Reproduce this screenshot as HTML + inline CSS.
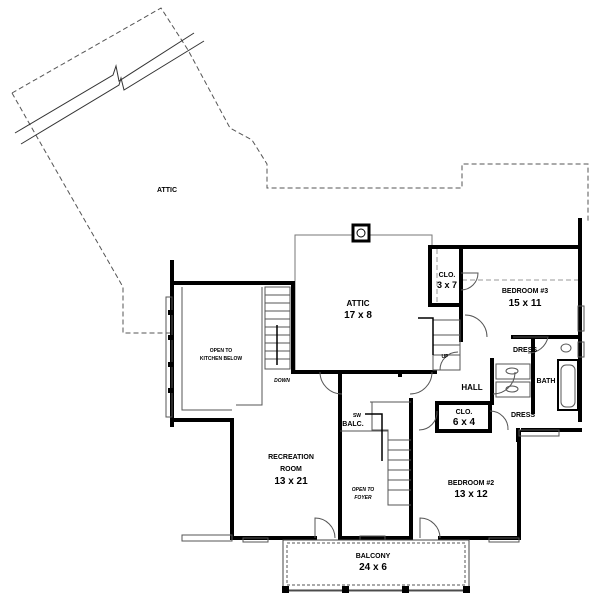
<!DOCTYPE html>
<html><head><style>body{margin:0;background:#fff}svg{display:block}text{font-family:"Liberation Sans",sans-serif;font-weight:bold;text-anchor:middle;fill:#000}</style></head><body>
<svg width="600" height="600" viewBox="0 0 600 600" xmlns="http://www.w3.org/2000/svg">
<g fill="none" stroke="#555" stroke-width="1" stroke-dasharray="5,3">
<polyline points="12,93 161,8 188,50 230,128 252,140 267,164 267,188 462,188 462,164 588,164 588,222"/>
<polyline points="12,93 37,137 123,287 123,333 171,333"/>
<line x1="462" y1="280" x2="578" y2="280" stroke="#999"/>
<line x1="437" y1="249" x2="437" y2="303" stroke="#999"/>
</g>
<g fill="none" stroke="#333" stroke-width="1">
<polyline points="15,133 113,75 116,66 119,81 194,33"/>
<polyline points="21,144 119,85 121,78 124,90 204,41"/>
</g>
<text x="167" y="192" font-size="7">ATTIC</text>
<g stroke="#777" fill="none"><polyline points="295,372 295,235 432,235 432,247"/></g>
<rect x="353" y="225" width="16" height="16" fill="#fff" stroke="#000" stroke-width="3"/>
<circle cx="361" cy="233" r="4" fill="none" stroke="#000"/>
<g stroke="#000" stroke-width="4" fill="none" stroke-linecap="square">
<polyline points="293,283 293,372 435,372"/>
<polyline points="172,262 172,425"/>
<polyline points="172,283 293,283"/>
<polyline points="172,420 232,420 232,538 315,538"/>
<line x1="340" y1="372" x2="340" y2="538"/>
<line x1="411" y1="400" x2="411" y2="538"/>
<polyline points="340,538 411,538"/>
<polyline points="440,538 519,538 519,432"/>
<polyline points="430,247 580,247"/>
<line x1="580" y1="220" x2="580" y2="420"/>
<polyline points="430,247 430,305 461,305 461,247"/>
<line x1="461" y1="305" x2="461" y2="340"/>
<line x1="513" y1="337" x2="580" y2="337"/>
<line x1="533" y1="337" x2="533" y2="412"/>
<line x1="492" y1="360" x2="492" y2="403"/>
<polyline points="437,403 492,403"/>
<polyline points="437,403 437,431 490,431 490,403"/>
<line x1="523" y1="430" x2="580" y2="430"/>
<line x1="518" y1="430" x2="518" y2="440"/>
<line x1="400" y1="372" x2="400" y2="375"/>
</g>
<g stroke="#555" fill="none">
<rect x="265" y="287" width="25" height="82"/>
<line x1="265" y1="295" x2="290" y2="295"/><line x1="265" y1="303" x2="290" y2="303"/><line x1="265" y1="311" x2="290" y2="311"/><line x1="265" y1="319" x2="290" y2="319"/><line x1="265" y1="327" x2="290" y2="327"/><line x1="265" y1="335" x2="290" y2="335"/><line x1="265" y1="343" x2="290" y2="343"/><line x1="265" y1="351" x2="290" y2="351"/><line x1="265" y1="359" x2="290" y2="359"/>
<polyline points="182,287 182,410 232,410"/>
<polyline points="262,287 262,405 236,405"/>
<rect x="166" y="297" width="6" height="120"/>
<polyline points="370,402 411,402"/>
<polyline points="372,402 372,430 388,430 388,505 411,505"/>
<line x1="388" y1="440" x2="411" y2="440"/><line x1="388" y1="450" x2="411" y2="450"/><line x1="388" y1="460" x2="411" y2="460"/><line x1="388" y1="470" x2="411" y2="470"/><line x1="388" y1="480" x2="411" y2="480"/><line x1="388" y1="490" x2="411" y2="490"/>
<line x1="340" y1="431" x2="388" y2="431"/>
<rect x="433" y="320" width="27" height="50"/>
<line x1="433" y1="335" x2="460" y2="335"/><line x1="433" y1="345" x2="460" y2="345"/><line x1="433" y1="355" x2="460" y2="355"/>
<rect x="558" y="360" width="20" height="50" stroke-width="2" stroke="#000"/>
<rect x="561" y="365" width="14" height="42" rx="5"/>
<ellipse cx="566" cy="348" rx="5" ry="4"/>
<rect x="496" y="364" width="34" height="15"/><ellipse cx="512" cy="371" rx="6" ry="3"/>
<rect x="496" y="382" width="34" height="15"/><ellipse cx="512" cy="389" rx="6" ry="3"/>
<path d="M315,538 L315,518 A20,20 0 0 1 335,538"/>
<path d="M420,538 L420,518 A20,20 0 0 1 440,538"/>
<path d="M320,372 A22,22 0 0 0 342,394"/>
<path d="M432,372 A22,22 0 0 1 410,394"/>
<path d="M461,273 L478,273 A17,17 0 0 1 461,290"/>
<path d="M465,315 A22,22 0 0 1 487,337"/>
<path d="M493,394 A22,22 0 0 0 515,372"/>
<path d="M513,337 L548,337 A20,20 0 0 1 528,353"/>
<path d="M437,411 A18,18 0 0 1 419,430"/>
<path d="M490,411 A18,18 0 0 1 508,430"/>
<path d="M440,370 A18,18 0 0 1 458,352"/>
<rect x="578" y="306" width="6" height="25"/><rect x="578" y="342" width="6" height="15"/>
<rect x="182" y="535" width="50" height="6"/><rect x="243" y="538" width="25" height="4"/>
<rect x="519" y="430" width="40" height="6"/><rect x="489" y="538" width="30" height="4"/>
<rect x="360" y="536" width="25" height="4"/>
<rect x="283" y="540" width="186" height="50" stroke="#444"/>
<rect x="287" y="543" width="178" height="42" stroke-dasharray="3,2"/>
<line x1="283" y1="591" x2="469" y2="591"/>
</g>
<g fill="#000"><rect x="282" y="586" width="7" height="7"/><rect x="342" y="586" width="7" height="7"/><rect x="402" y="586" width="7" height="7"/><rect x="463" y="586" width="7" height="7"/>
<rect x="168" y="310" width="5" height="5"/><rect x="168" y="335" width="5" height="5"/><rect x="168" y="362" width="5" height="5"/><rect x="168" y="388" width="5" height="5"/></g>
<g stroke="#000" stroke-width="1.5" fill="none">
<line x1="277" y1="365" x2="277" y2="325"/>
<polyline points="418,318 433,318 433,355"/>
<polyline points="365,414 382,414 382,432 382,461"/>
</g>
<text x="358" y="306" font-size="8">ATTIC</text><text x="358" y="318" font-size="10">17 x 8</text>
<text x="221" y="352" font-size="5">OPEN TO</text><text x="221" y="360" font-size="5">KITCHEN BELOW</text>
<text x="282" y="382" font-size="5" font-style="italic">DOWN</text>
<text x="445" y="358" font-size="5">UP</text>
<text x="447" y="277" font-size="7">CLO.</text><text x="447" y="288" font-size="9">3 x 7</text>
<text x="525" y="293" font-size="7">BEDROOM #3</text><text x="525" y="306" font-size="10">15 x 11</text>
<text x="525" y="352" font-size="7">DRESS</text><text x="546" y="383" font-size="7">BATH</text>
<text x="472" y="390" font-size="8">HALL</text>
<text x="464" y="414" font-size="7">CLO.</text><text x="464" y="425" font-size="10">6 x 4</text>
<text x="523" y="417" font-size="7">DRESS</text>
<text x="357" y="417" font-size="5">SW</text><text x="353" y="426" font-size="7">BALC.</text>
<text x="291" y="459" font-size="7">RECREATION</text><text x="291" y="471" font-size="7">ROOM</text><text x="291" y="484" font-size="10">13 x 21</text>
<text x="363" y="491" font-size="5" font-style="italic">OPEN TO</text><text x="363" y="499" font-size="5" font-style="italic">FOYER</text>
<text x="471" y="485" font-size="7">BEDROOM #2</text><text x="471" y="497" font-size="10">13 x 12</text>
<text x="373" y="558" font-size="7">BALCONY</text><text x="373" y="570" font-size="10">24 x 6</text>
</svg>
</body></html>
